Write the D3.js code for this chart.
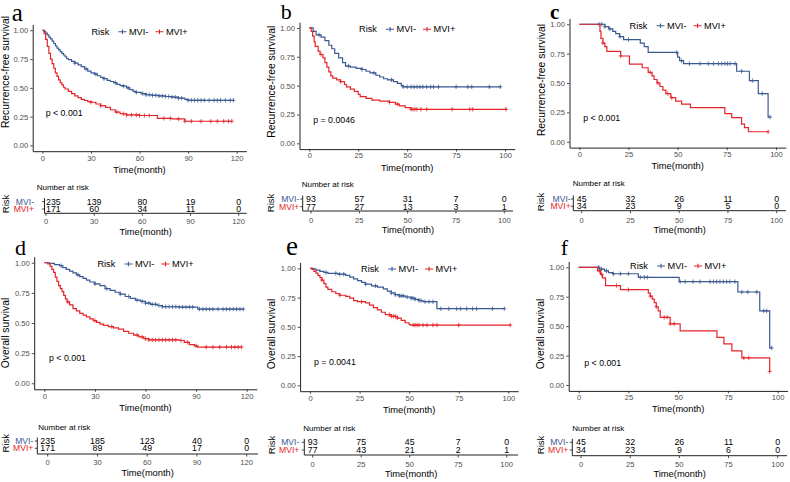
<!DOCTYPE html>
<html>
<head>
<meta charset="utf-8">
<style>
  body { margin: 0; background: #fff; }
  svg { display: block; font-family: "Liberation Sans", Arial, sans-serif; }
</style>
</head>
<body>
<svg id="chart" width="790" height="482"></svg>
<script src="https://cdn.jsdelivr.net/npm/d3@7"></script>
<script>
// ---- data ----
var breaks120 = [0, 30, 60, 90, 120];
var breaks100 = [0, 25, 50, 75, 100];
var yTicks = [0, 0.25, 0.5, 0.75, 1];
var groups = ["MVI-", "MVI+"];
var yTitles = ["Recurrence-free survival", "Overall survival"];
var pvals = ["p < 0.001", "p = 0.0046", "p < 0.001", "p < 0.001", "p = 0.0041", "p < 0.001"];
var tags = ["a", "b", "c", "d", "e", "f"];

// a: recurrence-free, whole cohort
var aNeg = [[0,1],[1,0.99],[2,0.975],[3,0.96],[4,0.94],[5,0.925],[6,0.905],[7,0.885],[8,0.865],[9,0.845],[10,0.83],[11,0.815],[12,0.80],[13,0.785],[14,0.77],[15,0.755],[16,0.745],[18,0.73],[20,0.715],[22,0.70],[24,0.685],[26,0.665],[28,0.645],[30,0.63],[32,0.62],[34,0.605],[36,0.59],[38,0.58],[40,0.565],[42,0.555],[44,0.545],[46,0.53],[48,0.52],[50,0.515],[52,0.50],[54,0.485],[56,0.47],[58,0.46],[61,0.45],[64,0.44],[68,0.435],[72,0.43],[76,0.425],[80,0.42],[84,0.41],[88,0.40],[90,0.392],[118,0.392]];
var aPos = [[0,1],[1,0.97],[2,0.92],[3,0.86],[4,0.80],[5,0.75],[6,0.71],[7,0.67],[8,0.63],[9,0.60],[10,0.57],[11,0.545],[12,0.525],[13,0.505],[14,0.49],[16,0.47],[18,0.45],[20,0.43],[22,0.415],[24,0.40],[26,0.39],[28,0.38],[30,0.375],[33,0.36],[36,0.345],[39,0.33],[42,0.31],[45,0.29],[48,0.275],[52,0.265],[60,0.26],[71,0.235],[80,0.23],[88,0.21],[117,0.21]];
var aNegCens = [20,27,33,38,45,50,53,58,62,64,66,68,70,72,74,76,78,80,82,84,86,90,92,94,96,98,100,103,106,108,110,113,116,118];
var aPosCens = [30,36,46,50,52,55,58,60,63,66,75,79,84,88,92,98,104,108,112,115,117];
var aRiskNeg = [235, 139, 80, 19, 0];
var aRiskPos = [171, 60, 34, 11, 0];

// b
var bNeg = [[0,1],[2,0.97],[3.5,0.94],[6,0.92],[8,0.89],[10,0.85],[11.5,0.82],[13,0.78],[15,0.74],[17,0.70],[18.5,0.67],[21,0.66],[24,0.65],[27,0.64],[29,0.625],[31,0.61],[34,0.59],[36,0.575],[38,0.56],[40,0.55],[43,0.535],[45,0.52],[47,0.50],[48,0.49],[98,0.49]];
var bPos = [[0,1],[1,0.97],[1.7,0.93],[2.5,0.88],[3,0.84],[4.5,0.80],[5.5,0.77],[7,0.74],[8,0.70],[9,0.66],[10,0.62],[11,0.585],[12,0.565],[14,0.55],[16,0.535],[18,0.51],[19,0.49],[21,0.47],[23,0.45],[25,0.425],[26,0.405],[29,0.39],[32,0.375],[36,0.365],[41,0.355],[44,0.34],[46,0.325],[49,0.31],[52,0.295],[101,0.295]];
var bNegCens = [5,20,27,33,42,48,50,52,53.5,55,56.5,58,60,62,63.5,66,75,81,83,92,97.6];
var bPosCens = [6,16,41,45,52,53,54,55,57,60,73,82,83.5,100.5];
var bRiskNeg = [93, 57, 31, 7, 0];
var bRiskPos = [77, 27, 13, 3, 1];

// c
var cNeg = [[0,1],[13,0.98],[15,0.96],[17,0.94],[18.5,0.92],[20.5,0.895],[22.5,0.87],[31,0.84],[33,0.81],[35,0.76],[50,0.72],[51,0.69],[53,0.665],[80,0.60],[86.5,0.52],[91,0.41],[96,0.21],[97,0.21]];
var cPos = [[0,1],[10.5,0.94],[11,0.88],[12,0.84],[13,0.81],[14,0.77],[21,0.73],[25.5,0.66],[32,0.63],[35,0.59],[37,0.56],[38,0.53],[39.5,0.50],[41,0.47],[42.5,0.44],[44,0.41],[46.5,0.375],[49,0.345],[52,0.32],[56.5,0.29],[74,0.24],[77.5,0.205],[82.5,0.15],[84,0.12],[86,0.085],[96,0.085]];
var cNegCens = [10,11.4,13,15.5,20.7,25,49.5,52,56,61.4,65.6,68.2,70.7,72.4,74.1,75.3,76.6,79.2,82.5,88,93,97];
var cPosCens = [12,21,36,40,45,47,96];
var cRiskNeg = [45, 32, 26, 11, 0];
var cRiskPos = [34, 23, 9, 5, 0];

// d: overall survival, whole cohort
var dNeg = [[0,1],[3,0.995],[6,0.985],[9,0.975],[11,0.96],[13,0.945],[15,0.93],[17,0.915],[19,0.90],[21,0.885],[23,0.87],[25,0.855],[27,0.84],[30,0.825],[33,0.81],[36,0.785],[39,0.77],[42,0.755],[45,0.74],[48,0.72],[51,0.705],[54,0.69],[57,0.68],[60,0.665],[63,0.655],[67,0.645],[70,0.635],[80,0.632],[91,0.615],[118,0.615]];
var dPos = [[0,1],[2,0.99],[3.5,0.97],[4.5,0.945],[5.5,0.92],[6.5,0.88],[7.5,0.845],[8.5,0.81],[9.5,0.785],[10.5,0.76],[11.5,0.73],[12.5,0.70],[13.5,0.675],[15,0.65],[17,0.62],[19,0.60],[21,0.58],[23,0.565],[25,0.55],[27,0.535],[29,0.52],[31,0.505],[33,0.49],[35,0.48],[38,0.47],[41,0.46],[44,0.45],[47,0.43],[50,0.415],[53,0.40],[56,0.385],[59,0.37],[62,0.36],[80,0.355],[83,0.34],[86,0.32],[89,0.31],[91,0.30],[117,0.30]];
var dNegCens = [10,20,30,37,45,50,55,58,60,62,64,66,68,70,72,74,76,78,80,82,84,86,88,92,94,96,98,100,103,106,108,110,112,114,116,118];
var dPosCens = [14,30,40,55,58,60,62,64,66,68,70,72,74,76,78,81,85,90,96,100,104,108,111,113,115,117];
var dRiskNeg = [235, 185, 123, 40, 0];
var dRiskPos = [171, 89, 49, 17, 0];

// e
var eNeg = [[0,1],[1.5,0.995],[3,0.985],[5,0.975],[7,0.965],[9,0.957],[14,0.95],[18,0.94],[20,0.925],[22,0.91],[24,0.895],[26,0.88],[28,0.865],[31,0.85],[34,0.84],[37,0.825],[39,0.805],[41,0.79],[43,0.775],[45,0.765],[48,0.755],[51,0.745],[53,0.735],[55,0.725],[57,0.715],[64,0.655],[98,0.655]];
var ePos = [[0,1],[1,0.99],[2,0.975],[3,0.96],[4,0.94],[5,0.92],[6,0.90],[7,0.87],[8,0.84],[9,0.82],[11,0.80],[13,0.785],[15,0.77],[18,0.76],[20,0.745],[22,0.725],[24,0.715],[28,0.705],[30,0.685],[32,0.665],[34,0.645],[36,0.625],[38,0.605],[41,0.59],[44,0.575],[46,0.555],[48,0.535],[50,0.52],[50.5,0.515],[101,0.515]];
var eNegCens = [8,13,15,17,28,33,41,43,45,46,47,49,51,52,53,55,56,58,60,62,66,70,74,76,79,82,84,92,98];
var ePosCens = [6,15,26,40,41,42,43,44,52,53,54,55,57,59,62,64,75,101];
var eRiskNeg = [93, 75, 45, 7, 0];
var eRiskPos = [77, 43, 21, 2, 1];

// f
var fNeg = [[0,1],[10.5,0.985],[13,0.97],[15,0.955],[17,0.945],[30,0.915],[50.5,0.878],[80,0.79],[91,0.63],[96,0.315],[97,0.315]];
var fPos = [[0,1],[9.5,0.97],[11,0.94],[12,0.91],[13.5,0.845],[21,0.81],[35,0.78],[36,0.755],[37,0.73],[38,0.70],[39,0.665],[40,0.63],[41,0.575],[46,0.52],[51,0.46],[69.5,0.405],[73,0.35],[77,0.29],[82,0.23],[96,0.115],[96.2,0.115]];
var fNegCens = [10,11.5,14,17.5,21,25,31,33,34.5,51,53.5,57.5,61,66,67.7,69.3,71,72.7,74.4,76,78.5,82,85,89.5,93,94.5,97];
var fPosCens = [10.5,11.5,19,25,36,39,43,44.5,46,48,83,85.5,96];
var fRiskNeg = [45, 32, 26, 11, 0];
var fRiskPos = [34, 23, 9, 6, 0];

// ---- layout (pixel boxes per panel) ----
var layouts = [
  {L:32.7, R:246.4, T:24.5, B:151.2, tag:{x:11.7, y:20.5, size:25, w:"normal"}, ylab:[5.5, 72], p:[2, 0.28], legDy:7.2,
   t:{lx:44.5, x0:46, x1:238.7, r:246.7, ly:213.3, r1:201.7, r2:209, nar:[36.7, 187.7], tick:221.7, title:231.7, risk:[5, 204], labEnd:34}},
  {L:299.5, R:514.8, T:22.2, B:149.1, tag:{x:280.7, y:19, size:22, w:"normal"}, ylab:[271.7, 81.7], p:[2, 0.2], legDy:7.1,
   t:{lx:302.7, x0:311, x1:504.3, r:513, ly:211, r1:199, r2:206.7, nar:[301.7, 184], tick:220, title:230, risk:[270, 203], labEnd:299.3}},
  {L:569.5, R:785.8, T:18.4, B:147.6, tag:{x:550, y:19, size:21, w:"bold"}, ylab:[541.7, 80], p:[2, 0.2], legDy:7.3,
   t:{lx:573.3, x0:581.7, x1:776.7, r:786, ly:210.7, r1:199, r2:206.3, nar:[572.7, 183.3], tick:220, title:230, risk:[540.7, 202], labEnd:570.7}},
  {L:34.2, R:256.8, T:256.7, B:389.3, tag:{x:15, y:255, size:22, w:"normal"}, ylab:[5.8, 333], p:[2.8, 0.21], legDy:7.3,
   t:{lx:37.3, x0:47.7, x1:246.7, r:258, ly:454, r1:441, r2:448.3, nar:[38.3, 427.7], tick:462.3, title:473.3, risk:[5, 443.3], labEnd:33.3}},
  {L:300.1, R:518.2, T:262.5, B:391.2, tag:{x:286, y:255, size:27, w:"normal"}, ylab:[271.7, 334], p:[2, 0.2], legDy:6.5,
   t:{lx:304.3, x0:312.7, x1:506.7, r:518, ly:455, r1:442.3, r2:450, nar:[303.3, 428.3], tick:464, title:474.3, risk:[271.7, 445], labEnd:299.3}},
  {L:568.7, R:787.6, T:261.4, B:390.9, tag:{x:560.7, y:255, size:22, w:"normal"}, ylab:[540.3, 334], p:[2.8, 0.19], legDy:4.6,
   t:{lx:572.3, x0:581, x1:777.7, r:787, ly:455.7, r1:442.3, r2:450, nar:[572.3, 428.7], tick:464, title:474.3, risk:[540, 445], labEnd:568.3}}
];

var panels = [
  {neg:aNeg, pos:aPos, negC:aNegCens, posC:aPosCens, rNeg:aRiskNeg, rPos:aRiskPos, breaks:breaks120, ytitle:yTitles[0]},
  {neg:bNeg, pos:bPos, negC:bNegCens, posC:bPosCens, rNeg:bRiskNeg, rPos:bRiskPos, breaks:breaks100, ytitle:yTitles[0]},
  {neg:cNeg, pos:cPos, negC:cNegCens, posC:cPosCens, rNeg:cRiskNeg, rPos:cRiskPos, breaks:breaks100, ytitle:yTitles[0]},
  {neg:dNeg, pos:dPos, negC:dNegCens, posC:dPosCens, rNeg:dRiskNeg, rPos:dRiskPos, breaks:breaks120, ytitle:yTitles[1]},
  {neg:eNeg, pos:ePos, negC:eNegCens, posC:ePosCens, rNeg:eRiskNeg, rPos:eRiskPos, breaks:breaks100, ytitle:yTitles[1]},
  {neg:fNeg, pos:fPos, negC:fNegCens, posC:fPosCens, rNeg:fRiskNeg, rPos:fRiskPos, breaks:breaks100, ytitle:yTitles[1]}
];

var blue = "#3B5A92", red = "#E5252A";
var axisCol = "#222", tickCol = "#4D4D4D";
var svg = d3.select("#chart");

function survAt(steps, t) {
  var s = 1;
  steps.forEach(function(d) { if (d[0] <= t) s = d[1]; });
  return s;
}

function styleAxis(sel) {
  sel.select(".domain").attr("stroke", axisCol).attr("stroke-width", 1);
  sel.selectAll(".tick line").attr("stroke", axisCol).attr("stroke-width", 0.8);
  sel.selectAll(".tick text").attr("fill", tickCol).style("font-size", "7.6px")
     .style("font-family", '"Liberation Sans", Arial, sans-serif');
}

function drawPanel(p, i) {
  var L = layouts[i];
  var max = d3.max(p.breaks);
  var x = d3.scaleLinear().domain([-0.05 * max, 1.05 * max]).range([L.L, L.R]);
  var y = d3.scaleLinear().domain([-0.05, 1.05]).range([L.B, L.T]);
  var g = svg.append("g");

  // tag letter
  g.append("text").attr("x", L.tag.x).attr("y", L.tag.y)
    .style("font-family", '"Liberation Serif", "Times New Roman", serif')
    .style("font-size", L.tag.size + "px").style("font-weight", L.tag.w)
    .text(tags[i]);

  // axes
  g.append("g").attr("transform", "translate(0," + L.B + ")")
    .call(d3.axisBottom(x).tickValues(p.breaks).tickSize(2.5).tickSizeOuter(0).tickPadding(1.5))
    .call(styleAxis);
  g.append("g").attr("transform", "translate(" + L.L + ",0)")
    .call(d3.axisLeft(y).tickValues(yTicks).tickFormat(d3.format(".2f")).tickSize(2.5).tickSizeOuter(0).tickPadding(2))
    .call(styleAxis);

  g.append("text").attr("x", (L.L + L.R) / 2).attr("y", L.B + 18.5)
    .attr("text-anchor", "middle").attr("dominant-baseline", "central")
    .style("font-size", "9.3px").text("Time(month)");
  g.append("text").attr("transform", "translate(" + L.ylab[0] + "," + L.ylab[1] + ") rotate(-90)")
    .attr("text-anchor", "middle").attr("dominant-baseline", "central")
    .style("font-size", "10.3px").text(p.ytitle);

  // curves
  var line = d3.line().x(function(d) { return x(d[0]); }).y(function(d) { return y(d[1]); })
    .curve(d3.curveStepAfter);
  [[p.neg, p.negC, blue], [p.pos, p.posC, red]].forEach(function(s) {
    g.append("path").datum(s[0]).attr("d", line).attr("fill", "none")
      .attr("stroke", s[2]).attr("stroke-width", 1.2);
    g.append("path").attr("fill", "none").attr("stroke", s[2]).attr("stroke-width", 0.8)
      .attr("d", s[1].map(function(t) {
        var cx = x(t), cy = y(survAt(s[0], t));
        return "M" + (cx - 2) + "," + cy + "h4M" + cx + "," + (cy - 2.2) + "v4.4";
      }).join(""));
  });

  // p value
  g.append("text").attr("x", x(L.p[0])).attr("y", y(L.p[1]))
    .attr("dominant-baseline", "central").style("font-size", "8.8px").text(pvals[i]);

  // legend
  var lg = g.append("g");
  lg.append("text").attr("x", 0).attr("y", 0).attr("dominant-baseline", "central")
    .style("font-size", "9.2px").text("Risk");
  [[27, blue, groups[0]], [64, red, groups[1]]].forEach(function(k) {
    lg.append("path").attr("d", "M" + k[0] + ",0h8M" + (k[0] + 4) + ",-2.2v4.4")
      .attr("stroke", k[1]).attr("stroke-width", 1.1).attr("fill", "none");
    lg.append("text").attr("x", k[0] + 10.5).attr("y", 0).attr("dominant-baseline", "central")
      .style("font-size", "9.2px").text(k[2]);
  });
  var bb = lg.node().getBBox();
  lg.attr("transform", "translate(" + ((L.L + L.R) / 2 - bb.width / 2) + "," + (L.T + L.legDy) + ")");

  // risk table
  var T = L.t;
  var tx = d3.scaleLinear().domain([0, max]).range([T.x0, T.x1]);
  g.append("text").attr("x", T.nar[0]).attr("y", T.nar[1]).attr("dominant-baseline", "central")
    .style("font-size", "8px").text("Number at risk");
  g.append("line").attr("x1", T.lx).attr("x2", T.lx).attr("y1", T.r1 - 3.5).attr("y2", T.ly)
    .attr("stroke", axisCol).attr("stroke-width", 1);
  g.append("line").attr("x1", T.lx).attr("x2", T.r).attr("y1", T.ly).attr("y2", T.ly)
    .attr("stroke", axisCol).attr("stroke-width", 1);
  p.breaks.forEach(function(b) {
    g.append("line").attr("x1", tx(b)).attr("x2", tx(b)).attr("y1", T.ly).attr("y2", T.ly + 2.5)
      .attr("stroke", axisCol).attr("stroke-width", 0.8);
    g.append("text").attr("x", tx(b)).attr("y", T.tick).attr("text-anchor", "middle")
      .attr("dominant-baseline", "central").attr("fill", tickCol).style("font-size", "7.6px").text(b);
  });
  [[T.r1, p.rNeg, blue, groups[0]], [T.r2, p.rPos, red, groups[1]]].forEach(function(r) {
    g.append("line").attr("x1", T.lx - 2.5).attr("x2", T.lx).attr("y1", r[0]).attr("y2", r[0])
      .attr("stroke", axisCol).attr("stroke-width", 0.8);
    g.append("text").attr("x", T.labEnd).attr("y", r[0]).attr("text-anchor", "end")
      .attr("dominant-baseline", "central").attr("fill", r[2]).style("font-size", "8.6px").text(r[3]);
    r[1].forEach(function(n, j) {
      var t = g.append("text").attr("x", tx(p.breaks[j])).attr("y", r[0]).attr("text-anchor", "middle")
        .attr("dominant-baseline", "central").style("font-size", "8.8px").text(n);
      // keep the first column clear of the table axis line
      var w = t.node().getComputedTextLength();
      if (tx(p.breaks[j]) - w / 2 < T.lx + 1.5) t.attr("x", T.lx + 1.5 + w / 2);
    });
  });
  g.append("text").attr("x", (T.lx + T.r) / 2).attr("y", T.title).attr("text-anchor", "middle")
    .attr("dominant-baseline", "central").style("font-size", "9.3px").text("Time(month)");
  g.append("text").attr("transform", "translate(" + T.risk[0] + "," + T.risk[1] + ") rotate(-90)")
    .attr("text-anchor", "middle").attr("dominant-baseline", "central")
    .style("font-size", "9.5px").text("Risk");
}

panels.forEach(drawPanel);
</script>
</body>
</html>
